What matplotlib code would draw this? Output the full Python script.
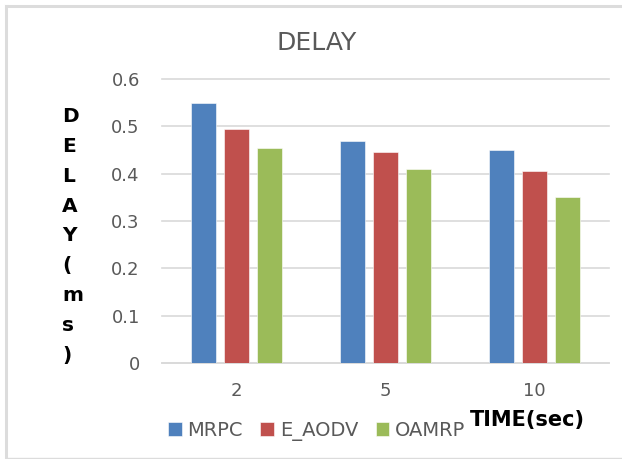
import matplotlib
matplotlib.use("Agg")
import matplotlib.pyplot as plt
import numpy as np
from matplotlib.lines import Line2D

times = ["2", "5", "10"]
series = ["MRPC", "E_AODV", "OAMRP"]
mrpc = [0.55, 0.47, 0.45]
e_aodv = [0.495, 0.445, 0.405]
oamrp = [0.455, 0.41, 0.35]
y_ticks = [0, 0.1, 0.2, 0.3, 0.4, 0.5, 0.6]

colors = ["#4F81BD", "#C0504D", "#9BBB59"]
grey = "#595959"
grid = "#d9d9d9"

W, H = 622, 459
fig = plt.figure(figsize=(W / 100, H / 100), dpi=100)
ax = fig.add_axes([162 / W, 1 - 363 / H, (609 - 162) / W, (363 - 79) / H])

x = np.arange(len(times))
width = 0.172
step = 0.222
for i, (name, vals) in enumerate(zip(series, [mrpc, e_aodv, oamrp])):
    ax.bar(x + (i - 1) * step, vals, width, color=colors[i], label=name,
           edgecolor="white", linewidth=0.4, zorder=3)

ax.set_xlim(-0.5, 2.5)
ax.set_ylim(0, 0.6)
ax.set_yticks(y_ticks)
ax.set_yticklabels([f"{v:g}" for v in y_ticks])
ax.set_xticks(x)
ax.set_xticklabels(times)
ax.tick_params(axis="both", length=0, labelsize=13, labelcolor=grey)
ax.tick_params(axis="y", pad=16)
ax.tick_params(axis="x", pad=14)
ax.grid(axis="y", color=grid, linewidth=1.2, zorder=0)
ax.set_axisbelow(True)
for side in ["top", "right", "left"]:
    ax.spines[side].set_visible(False)
ax.spines["bottom"].set_color(grid)
ax.spines["bottom"].set_linewidth(1.2)
for gl in ax.get_ygridlines():
    gl.set_clip_on(False)

fig.text(317 / W, 1 - 42.5 / H, "DELAY", ha="center", va="center",
         fontsize=18, color=grey)

fig.text(62 / W, 1 - 236 / H, "\n".join("DELAY(ms)"), ha="left", va="center",
         fontsize=14.5, fontweight="bold", color="black", linespacing=1.72,
         multialignment="left")

fig.text(470 / W, 1 - 420 / H, "TIME(sec)", ha="left", va="center",
         fontsize=15, fontweight="bold", color="black")

fig.legend(loc="center left", bbox_to_anchor=(168 / W, 1 - 431 / H), ncol=3,
           frameon=False, fontsize=14, labelcolor=grey, handlelength=0.7,
           handleheight=0.7, handletextpad=0.3, columnspacing=0.9,
           borderaxespad=0, borderpad=0)

# light frame around the chart
for xs, ys, lw in [([6, 6], [6, H], 2.2), ([6, W], [6, 6], 2.2), ([6, W], [457.5, 457.5], 1)]:
    fig.add_artist(Line2D([v / W for v in xs], [1 - v / H for v in ys],
                          color="#dcdcdc", linewidth=lw))

fig.savefig("out.png", dpi=100, facecolor="white")
plt.close(fig)
